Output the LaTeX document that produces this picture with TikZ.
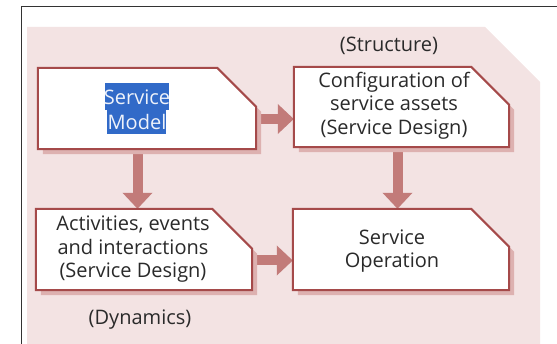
\documentclass[tikz,border=0pt]{standalone}
\usepackage{fontspec}
\setmainfont{Open Sans}
\usetikzlibrary{arrows.meta,calc}

\definecolor{frameline}{HTML}{333333}
\definecolor{panel}{HTML}{F3E3E3}
\definecolor{boxline}{HTML}{A54A4A}
\definecolor{boxshadow}{HTML}{DDB1B0}
\definecolor{flow}{HTML}{C27B79}
\definecolor{ink}{HTML}{2A2A2A}
\definecolor{selbg}{HTML}{316AC8}
\definecolor{seltext}{HTML}{EEF2FA}

% a box with its top right corner cut off, plus a flat shadow
\newcommand\cutbox[2]{%
  \fill[boxshadow] ($(#1.north west)+(5,5)$) -- ($(#1.north east)+(-#2+5,5)$)
    -- ($(#1.north east)+(5,#2+5)$) -- ($(#1.south east)+(5,5)$)
    -- ($(#1.south west)+(5,5)$) -- cycle;
  \filldraw[fill=white, draw=boxline, line width=2pt, line join=miter]
    (#1.north west) -- ($(#1.north east)+(-#2,0)$) -- ($(#1.north east)+(0,#2)$)
    -- (#1.south east) -- (#1.south west) -- cycle;
}

\begin{document}
\begin{tikzpicture}[x=1pt,y=-1pt,
  area/.style={inner sep=0pt, minimum width=#1},
  boxtext/.style={align=center, text=ink, inner sep=0pt,
    font=\fontsize{20}{23.5}\selectfont},
  flowarrow/.style={draw=flow, line width=10pt,
    -{Triangle[width=29pt,length=16pt]}},
]
\useasboundingbox (0,0) rectangle (557,344);

% page frame and shaded panel
\draw[frameline, line width=1pt] (21.5,344) -- (21.5,6.5) -- (557,6.5);
\fill[panel] (27,27) -- (485,27) -- (540,82) -- (540,344) -- (27,344) -- cycle;

% box outlines (geometry only)
\node[area=218pt, minimum height=81pt] (model)  at (147,108.5) {};
\node[area=215pt, minimum height=80pt] (config) at (401.5,107) {};
\node[area=216pt, minimum height=81pt] (activ)  at (144,249.5) {};
\node[area=216pt, minimum height=81pt] (oper)   at (401,249.5) {};

% connectors
\coordinate (h1) at ($(model.east)+(0,10.5)$);
\coordinate (h2) at ($(activ.east)+(0,11)$);
\coordinate (v1) at ($(model.south)+(-9.5,0)$);
\coordinate (v2) at ($(config.south)+(-4,0)$);
\draw[flowarrow] (h1) -- (h1 -| config.west);
\draw[flowarrow] (h2) -- (h2 -| oper.west);
\draw[flowarrow] (v1) -- (v1 |- activ.north);
\draw[flowarrow] (v2) -- (v2 |- oper.north);

% boxes
\cutbox{model}{39}
\cutbox{config}{38}
\cutbox{activ}{40}
\cutbox{oper}{38}

% selected text in the first box
\fill[selbg] (105,83) rectangle (169,110.5);
\fill[selbg] (107,110) rectangle (166,134);

% texts
\node[boxtext, text=seltext, font=\fontsize{20}{25}\selectfont] (model-t) at (137,109.5)
  {Service\\Model};
\node[boxtext] (config-t) at (394,105.5) {Configuration of\\service assets\\(Service Design)};
\node[boxtext] (activ-t) at (133,249.5) {Activities, events\\and interactions\\(Service Design)};
\node[boxtext] (oper-t) at (392,251) {Service\\Operation};
\node[boxtext] (structure) at (389,46) {(Structure)};
\node[boxtext] (dynamics) at (140,320) {(Dynamics)};
\end{tikzpicture}
\end{document}
